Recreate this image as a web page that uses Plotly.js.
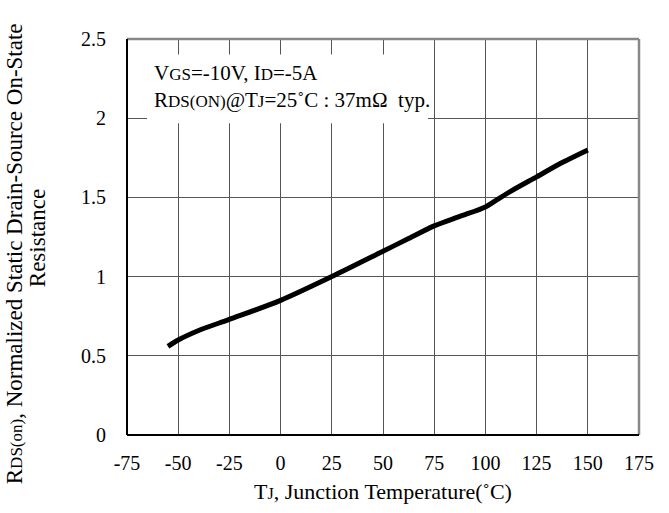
<!DOCTYPE html>
<html>
<head>
<meta charset="utf-8">
<script src="https://cdn.plot.ly/plotly-3.0.1.min.js"></script>
<style>html,body{margin:0;padding:0;background:#fff;}#chart{width:669px;height:513px;}</style>
</head>
<body>
<div id="chart"></div>
<script>
// Junction temperature (°C)
const temperature = [-55, -50, -40, -25, 0, 25, 50, 62.5, 75, 87.5, 100, 105, 112.5, 125, 137.5, 150];
// Normalized RDS(on)
const rdsNormalized = [0.56, 0.60, 0.66, 0.73, 0.85, 1.0, 1.16, 1.24, 1.32, 1.38, 1.44, 1.48, 1.54, 1.63, 1.72, 1.80];
const xTicks = [-75, -50, -25, 0, 25, 50, 75, 100, 125, 150, 175];
const yTicks = [0, 0.5, 1, 1.5, 2, 2.5];
const yTickText = ['0', '0.5', '1', '1.5', '2', '2.5'];

const serif = 'Liberation Serif, Times New Roman, serif';
const sm = (s, px) => '<span style="font-size:' + px + 'px">' + s + '</span>';

const trace = {
  x: temperature, y: rdsNormalized, type: 'scatter', mode: 'lines',
  line: {color: '#000', width: 5, shape: 'spline', smoothing: 0.8},
  hoverinfo: 'skip'
};

const layout = {
  width: 669, height: 513,
  margin: {l: 127, r: 30, t: 38.5, b: 78},
  paper_bgcolor: '#fff', plot_bgcolor: '#fff',
  showlegend: false,
  font: {family: serif, color: '#000', size: 20},
  xaxis: {
    range: [-75, 175], tickvals: xTicks, ticktext: xTicks.map(String),
    showgrid: true, gridcolor: '#555', gridwidth: 1, zeroline: false,
    showline: false, ticks: 'outside', ticklen: 10, tickcolor: 'rgba(0,0,0,0)',
    tickfont: {family: serif, size: 20, color: '#000'},
    title: {text: 'T' + sm('J', 16) + ', Junction Temperature(˚C)', font: {family: serif, size: 22, color: '#000'}, standoff: 10}
  },
  yaxis: {
    range: [0, 2.5], tickvals: yTicks, ticktext: yTickText,
    showgrid: true, gridcolor: '#555', gridwidth: 1, zeroline: false,
    showline: false, ticks: 'outside', ticklen: 16, tickcolor: 'rgba(0,0,0,0)',
    tickfont: {family: serif, size: 20, color: '#000'},
    title: {text: ''}
  },
  shapes: [
    {type: 'rect', xref: 'paper', yref: 'paper', x0: 0.039, x1: 0.588, y0: 0.787, y1: 0.961, fillcolor: '#fff', line: {width: 0}, layer: 'above'},
    {type: 'line', xref: 'paper', yref: 'paper', x0: 0, x1: 1, y0: 1, y1: 1, line: {color: '#888', width: 2.5}, layer: 'above'},
    {type: 'line', xref: 'paper', yref: 'paper', x0: 1, x1: 1, y0: 0, y1: 1, line: {color: '#888', width: 2.5}, layer: 'above'},
    {type: 'line', xref: 'paper', yref: 'paper', x0: 0, x1: 0, y0: 0, y1: 1, line: {color: '#000', width: 2}, layer: 'above'},
    {type: 'line', xref: 'paper', yref: 'paper', x0: 0, x1: 1, y0: 0, y1: 0, line: {color: '#000', width: 2}, layer: 'above'}
  ],
  annotations: [
    {xref: 'paper', yref: 'paper', x: 0.048, y: 0.915, xanchor: 'left', yanchor: 'middle', showarrow: false, align: 'left',
     text: 'V' + sm('GS', 17) + '=-10V, I' + sm('D', 17) + '=-5A', font: {family: serif, size: 21, color: '#000'}},
    {xref: 'paper', yref: 'paper', x: 0.048, y: 0.845, xanchor: 'left', yanchor: 'middle', showarrow: false, align: 'left',
     text: 'R' + sm('DS(ON)', 17) + '@T' + sm('J', 17) + '=25˚C : 37mΩ  typ.', font: {family: serif, size: 21, color: '#000'}},
    {xref: 'paper', yref: 'paper', x: -0.2207, y: 0.4565, xanchor: 'center', yanchor: 'middle', showarrow: false, textangle: -90,
     text: 'R' + sm('DS(on)', 17) + ', Normalized Static Drain-Source On-State', font: {family: serif, size: 23, color: '#000'}},
    {xref: 'paper', yref: 'paper', x: -0.1758, y: 0.497, xanchor: 'center', yanchor: 'middle', showarrow: false, textangle: -90,
     text: 'Resistance', font: {family: serif, size: 23, color: '#000'}}
  ]
};

Plotly.newPlot('chart', [trace], layout, {staticPlot: true, displayModeBar: false});
</script>
</body>
</html>
